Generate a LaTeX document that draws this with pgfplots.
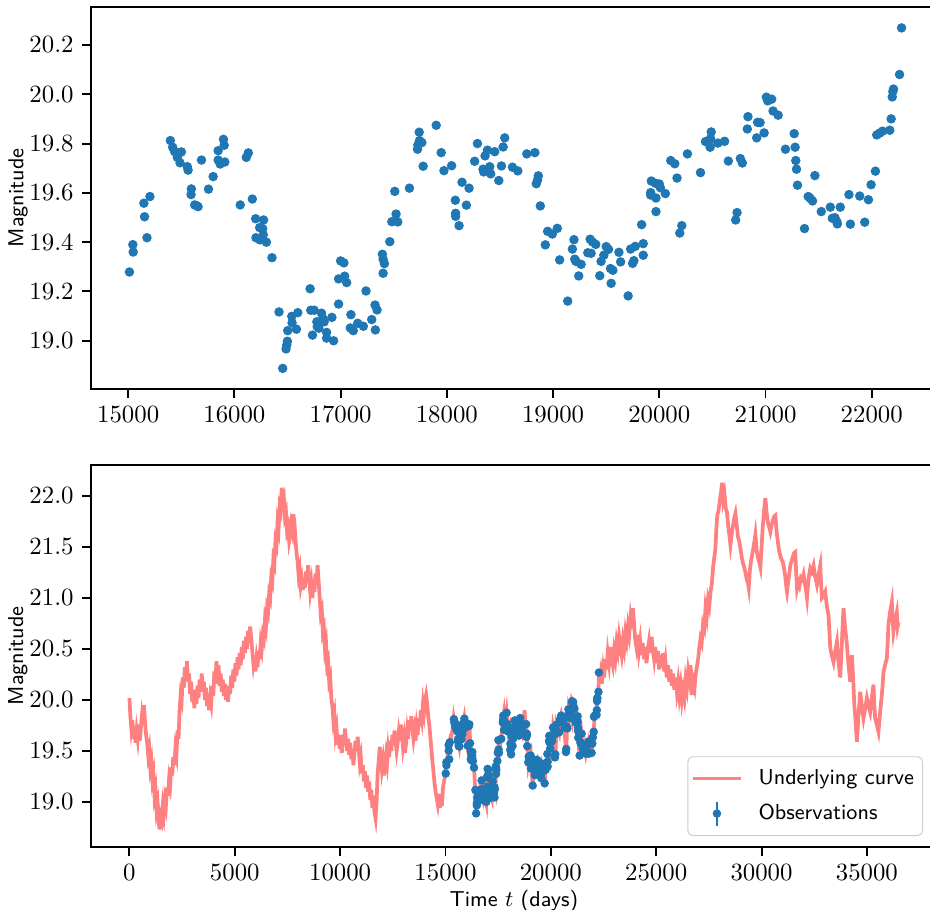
\documentclass[border=0pt]{standalone}
\usepackage{pgfplots}
\pgfplotsset{compat=1.18}
\usepackage{pgfplotstable}
\definecolor{obsblue}{HTML}{1F77B4}
\definecolor{curvered}{HTML}{FF8080}
\newcommand{\lblfont}{\fontsize{8.7}{10.5}\selectfont\sffamily}
\pgfplotsset{myax/.style={
  scale only axis, width=341.1pt, height=154pt,
  axis line style={line width=0.8pt},
  tick align=outside, tick pos=left, major tick length=3.5pt,
  every tick/.style={black, line width=0.8pt},
  scaled ticks=false,
  xticklabel style={/pgf/number format/1000 sep={}},
  ylabel style={font=\lblfont, at={(axis description cs:-0.0863,0.5)}, anchor=center, rotate=0},
  xlabel style={font=\lblfont, at={(axis description cs:0.5,-0.141)}, anchor=center},
}}
\begin{document}
\pgfplotstableread{
x y
15012 19.279
15044 19.390
15047 19.360
15154 19.503
15177 19.418
15148 19.558
15205 19.585
15397 19.812
15419 19.785
15438 19.767
15463 19.760
15501 19.766
15463 19.744
15488 19.722
15557 19.706
15564 19.692
15595 19.616
15592 19.593
15626 19.551
15658 19.544
15645 19.548
15690 19.733
15756 19.615
15800 19.666
15847 19.771
15847 19.733
15866 19.717
15897 19.817
15904 19.793
15910 19.725
16131 19.762
16112 19.744
16055 19.551
16169 19.575
16200 19.495
16275 19.490
16238 19.459
16266 19.455
16272 19.430
16203 19.418
16241 19.409
16301 19.400
16354 19.337
16455 18.888
16486 18.967
16493 18.983
16499 18.998
16502 19.041
16420 19.117
16540 19.099
16543 19.073
16584 19.047
16597 19.114
16713 19.211
16719 19.124
16751 19.124
16735 19.023
16776 19.077
16795 19.051
16820 19.112
16833 19.091
16845 19.077
16780 19.057
16868 19.034
16868 19.011
16934 19.000
16918 19.095
16981 19.149
17000 19.324
17031 19.316
16981 19.251
17038 19.262
17057 19.236
17097 19.106
17091 19.052
17119 19.041
17161 19.071
17214 19.059
17239 19.202
17293 19.086
17327 19.044
17324 19.145
17343 19.125
17400 19.274
17412 19.313
17400 19.331
17393 19.351
17463 19.402
17482 19.483
17538 19.482
17522 19.514
17510 19.606
17648 19.619
17724 19.777
17727 19.794
17743 19.812
17765 19.804
17740 19.846
17777 19.708
17900 19.874
17947 19.763
17973 19.690
18045 19.710
18080 19.570
18083 19.517
18083 19.505
18115 19.467
18143 19.643
18209 19.619
18184 19.550
18262 19.728
18288 19.800
18341 19.696
18347 19.685
18360 19.750
18382 19.773
18404 19.706
18413 19.677
18451 19.767
18489 19.650
18514 19.709
18530 19.786
18545 19.823
18618 19.704
18668 19.689
18753 19.758
18829 19.763
18861 19.669
18854 19.652
18842 19.637
18880 19.547
18927 19.389
18949 19.444
18993 19.433
19040 19.456
19062 19.328
19138 19.161
19197 19.410
19182 19.372
19204 19.331
19216 19.322
19264 19.310
19242 19.263
19349 19.412
19371 19.401
19402 19.391
19327 19.357
19358 19.355
19440 19.264
19452 19.322
19478 19.347
19500 19.382
19522 19.371
19541 19.293
19563 19.286
19547 19.233
19620 19.359
19636 19.320
19707 19.182
19730 19.372
19774 19.383
19749 19.314
19761 19.325
19849 19.394
19849 19.347
19834 19.471
19925 19.648
19919 19.601
19919 19.591
19969 19.579
19969 19.524
19963 19.639
20000 19.636
20010 19.621
20057 19.597
20108 19.731
20146 19.718
20167 19.660
20212 19.467
20193 19.437
20265 19.758
20388 19.682
20435 19.808
20489 19.847
20460 19.804
20479 19.785
20482 19.821
20552 19.802
20615 19.809
20650 19.729
20732 19.520
20719 19.490
20763 19.739
20782 19.721
20835 19.909
20829 19.859
20926 19.886
20949 19.885
20917 19.823
20987 19.843
21008 19.988
21021 19.973
21058 19.980
21071 19.932
21119 19.915
21188 19.777
21270 19.840
21279 19.785
21285 19.731
21292 19.696
21301 19.631
21367 19.455
21465 19.670
21402 19.585
21421 19.578
21443 19.567
21525 19.524
21610 19.542
21629 19.497
21654 19.499
21672 19.483
21676 19.474
21704 19.542
21786 19.593
21799 19.473
21887 19.587
21934 19.481
21969 19.572
21994 19.633
22035 19.688
22047 19.835
22073 19.842
22101 19.850
22170 19.854
22183 19.900
22193 19.989
22199 20.011
22205 20.021
22262 20.080
22281 20.269
}\obs
\pgfplotstableread{
x y
0 20.02
40 19.85
90 19.72
140 19.80
190 19.62
240 19.74
290 19.58
340 19.70
390 19.62
440 19.76
490 19.60
540 19.72
590 19.84
640 19.76
690 19.95
740 19.78
790 19.66
840 19.58
890 19.46
940 19.52
990 19.34
1040 19.40
1090 19.22
1140 19.28
1190 19.06
1240 19.12
1290 18.92
1340 18.98
1390 18.80
1430 18.73
1480 18.86
1530 18.82
1580 18.96
1630 18.88
1680 19.02
1730 18.96
1780 19.14
1830 19.06
1880 19.22
1930 19.16
1980 19.34
2030 19.26
2080 19.44
2130 19.36
2180 19.52
2230 19.46
2280 19.70
2330 19.62
2380 19.90
2430 20.05
2480 20.00
2530 20.22
2580 20.12
2630 20.32
2680 20.20
2730 20.38
2780 20.18
2830 20.26
2880 20.06
2930 20.18
2980 19.98
3030 20.10
3080 19.92
3130 20.06
3180 19.96
3230 20.14
3280 20.02
3330 20.20
3380 20.08
3430 20.26
3480 20.10
3530 20.18
3580 20.00
3630 20.12
3680 19.94
3730 20.06
3780 19.90
3830 20.02
3880 19.96
3930 20.14
3980 20.04
4030 20.28
4080 20.16
4130 20.38
4180 20.22
4230 20.34
4280 20.14
4330 20.26
4380 20.08
4430 20.20
4480 20.04
4530 20.16
4580 20.00
4630 20.12
4680 19.98
4730 20.14
4780 20.06
4830 20.24
4880 20.12
4930 20.30
4980 20.18
5030 20.36
5080 20.24
5130 20.42
5180 20.30
5230 20.46
5280 20.34
5330 20.52
5380 20.40
5430 20.58
5480 20.46
5530 20.62
5580 20.50
5630 20.68
5680 20.56
5730 20.72
5780 20.60
5830 20.48
5880 20.36
5930 20.44
5980 20.28
6030 20.40
6080 20.32
6130 20.48
6180 20.40
6230 20.56
6280 20.50
6330 20.64
6380 20.60
6430 20.78
6480 20.72
6530 20.90
6580 20.86
6630 21.04
6680 21.00
6730 21.20
6780 21.16
6830 21.38
6880 21.34
6930 21.56
6980 21.52
7030 21.74
7080 21.68
7130 21.90
7180 21.86
7230 22.08
7280 21.94
7330 21.98
7380 21.80
7430 21.84
7480 21.66
7530 21.70
7580 21.56
7630 21.62
7680 21.72
7730 21.66
7780 21.82
7830 21.74
7880 21.58
7930 21.44
7980 21.36
8030 21.22
8080 21.28
8130 21.12
8180 21.18
8230 21.08
8280 21.20
8330 21.10
8380 21.26
8430 21.16
8480 21.32
8530 21.20
8580 21.06
8630 21.14
8680 21.00
8730 21.16
8780 21.06
8830 21.24
8880 21.14
8930 21.32
8980 21.16
9030 21.00
9080 20.84
9130 20.88
9180 20.66
9230 20.70
9280 20.50
9330 20.56
9380 20.34
9430 20.38
9480 20.18
9530 20.22
9580 20.02
9630 19.94
9680 19.80
9730 19.86
9780 19.66
9830 19.72
9880 19.56
9930 19.66
9980 19.52
10030 19.62
10080 19.48
10130 19.66
10180 19.56
10230 19.72
10280 19.60
10330 19.50
10380 19.62
10430 19.46
10480 19.58
10530 19.42
10580 19.52
10630 19.36
10680 19.48
10730 19.60
10780 19.50
10830 19.64
10880 19.52
10930 19.38
10980 19.44
11030 19.28
11080 19.36
11130 19.20
11180 19.30
11230 19.14
11280 19.26
11330 19.10
11380 19.20
11430 19.02
11480 19.12
11530 18.94
11580 19.06
11630 18.90
11680 18.84
11730 19.00
11780 19.28
11830 19.40
11880 19.54
11930 19.44
11980 19.32
12030 19.40
12080 19.26
12130 19.36
12180 19.46
12230 19.38
12280 19.52
12330 19.44
12380 19.60
12430 19.50
12480 19.66
12530 19.56
12580 19.70
12630 19.60
12680 19.50
12730 19.58
12780 19.68
12830 19.60
12880 19.76
12930 19.66
12980 19.54
13030 19.62
13080 19.48
13130 19.58
13180 19.70
13230 19.62
13280 19.80
13330 19.70
13380 19.84
13430 19.72
13480 19.62
13530 19.70
13580 19.60
13630 19.74
13680 19.66
13730 19.82
13780 19.74
13830 19.90
13880 19.82
13930 19.96
13980 19.88
14030 20.00
14080 20.05
14130 19.96
14180 19.84
14230 19.76
14280 19.64
14330 19.52
14380 19.40
14430 19.30
14480 19.18
14530 19.10
14580 19.04
14630 18.98
14680 19.08
14730 18.94
14780 19.06
14830 18.96
14880 19.14
14930 19.20
14980 19.26
15040 19.38
15090 19.44
15140 19.52
15190 19.58
15240 19.54
15290 19.66
15340 19.72
15390 19.82
15440 19.76
15490 19.78
15540 19.70
15590 19.60
15640 19.55
15690 19.72
15740 19.62
15790 19.68
15840 19.76
15890 19.82
15940 19.72
15990 19.64
16040 19.56
16090 19.70
16130 19.78
16170 19.58
16220 19.48
16270 19.46
16320 19.40
16360 19.32
16410 19.12
16455 18.89
16500 19.02
16540 19.10
16590 19.08
16640 19.14
16690 19.06
16720 19.22
16760 19.10
16800 19.04
16850 19.10
16900 19.02
16940 18.98
16980 19.16
17010 19.34
17050 19.24
17100 19.06
17150 19.08
17200 19.04
17240 19.22
17290 19.08
17330 19.16
17370 19.12
17400 19.32
17450 19.40
17500 19.50
17530 19.62
17580 19.54
17640 19.64
17690 19.70
17730 19.82
17760 19.86
17800 19.70
17850 19.80
17900 19.88
17950 19.76
17990 19.68
18040 19.72
18080 19.54
18115 19.46
18150 19.66
18210 19.62
18260 19.74
18290 19.82
18340 19.68
18380 19.78
18420 19.66
18460 19.78
18500 19.64
18540 19.84
18590 19.72
18640 19.68
18700 19.76
18750 19.90
18800 19.74
18830 19.80
18860 19.64
18890 19.52
18930 19.38
18980 19.44
19040 19.48
19070 19.30
19110 19.24
19140 19.16
19180 19.36
19220 19.28
19260 19.32
19300 19.40
19350 19.42
19400 19.36
19440 19.24
19480 19.36
19520 19.38
19560 19.26
19600 19.34
19640 19.32
19680 19.24
19710 19.18
19750 19.34
19800 19.40
19850 19.38
19880 19.50
19920 19.62
19970 19.54
20010 19.64
20060 19.60
20110 19.74
20150 19.70
20190 19.46
20230 19.52
20270 19.76
20330 19.72
20390 19.68
20440 19.82
20490 19.86
20550 19.80
20610 19.82
20650 19.72
20700 19.54
20730 19.48
20770 19.74
20830 19.90
20880 19.84
20930 19.90
20980 19.84
21010 20.00
21060 19.98
21110 19.92
21150 19.84
21190 19.76
21240 19.82
21280 19.72
21310 19.60
21360 19.46
21400 19.58
21450 19.66
21500 19.54
21560 19.50
21610 19.55
21660 19.48
21710 19.54
21760 19.58
21800 19.46
21850 19.56
21890 19.60
21940 19.46
21990 19.64
22040 19.72
22080 19.84
22130 19.86
22170 19.86
22200 20.00
22250 20.06
22290 20.27
22320 20.18
22370 20.26
22420 20.16
22480 20.30
22530 20.22
22590 20.40
22640 20.30
22700 20.46
22760 20.36
22820 20.52
22880 20.40
22940 20.34
23000 20.48
23060 20.40
23120 20.56
23180 20.48
23240 20.62
23300 20.52
23360 20.44
23420 20.58
23480 20.50
23540 20.66
23600 20.58
23660 20.72
23720 20.64
23780 20.80
23840 20.70
23900 20.90
23950 20.74
24000 20.60
24060 20.52
24120 20.64
24180 20.48
24240 20.58
24300 20.44
24360 20.56
24420 20.40
24480 20.52
24540 20.36
24600 20.50
24660 20.58
24720 20.46
24780 20.62
24840 20.50
24900 20.40
24960 20.52
25020 20.36
25080 20.48
25140 20.30
25200 20.44
25260 20.32
25320 20.46
25380 20.28
25440 20.38
25500 20.22
25560 20.34
25620 20.18
25680 20.30
25740 20.14
25800 20.26
25860 20.10
25920 20.22
25980 20.08
26040 20.18
26100 20.04
26160 20.14
26220 20.00
26280 20.10
26340 20.02
26400 20.20
26460 20.12
26520 20.28
26580 20.20
26630 20.34
26700 20.05
26760 20.18
26820 20.12
26880 20.26
26945 20.34
27000 20.42
27050 20.52
27100 20.60
27160 20.56
27220 20.74
27280 20.70
27340 20.90
27400 20.82
27460 20.98
27520 20.92
27580 21.06
27640 21.14
27700 21.30
27760 21.40
27812 21.49
27860 21.70
27900 21.81
27960 21.86
28020 21.96
28080 22.04
28130 22.13
28180 21.96
28240 22.02
28300 21.88
28360 21.84
28420 21.70
28470 21.62
28524 21.52
28580 21.62
28640 21.70
28700 21.78
28761 21.83
28820 21.72
28880 21.60
28940 21.56
28997 21.49
29060 21.40
29120 21.34
29180 21.30
29234 21.25
29300 21.18
29360 21.14
29391 21.10
29450 21.28
29500 21.36
29552 21.42
29620 21.50
29680 21.58
29707 21.62
29760 21.48
29820 21.40
29880 21.36
29944 21.30
30000 21.50
30060 21.70
30120 21.86
30180 21.98
30240 21.84
30300 21.74
30360 21.70
30418 21.65
30480 21.72
30540 21.76
30600 21.80
30655 21.81
30720 21.64
30770 21.56
30811 21.49
30880 21.42
30940 21.38
31000 21.36
31048 21.32
31120 21.22
31180 21.10
31209 21.06
31280 21.18
31330 21.26
31366 21.32
31420 21.36
31480 21.40
31540 21.44
31602 21.45
31640 21.26
31683 21.10
31740 21.16
31800 21.12
31870 21.20
31940 21.18
31996 21.23
32060 21.14
32120 21.06
32157 21.00
32220 21.16
32270 21.24
32313 21.29
32380 21.26
32440 21.30
32469 21.32
32530 21.22
32580 21.18
32630 21.13
32700 21.22
32750 21.28
32787 21.32
32830 21.12
32868 21.00
32940 21.02
33024 21.06
33100 20.92
33180 20.83
33230 20.64
33261 20.51
33330 20.44
33417 20.37
33500 20.48
33578 20.57
33650 20.38
33735 20.22
33800 20.50
33860 20.78
33892 20.90
33960 20.72
34053 20.54
34120 20.36
34208 20.18
34250 20.32
34289 20.44
34360 20.16
34400 19.96
34445 19.85
34490 19.70
34526 19.59
34600 19.84
34682 20.08
34760 19.94
34839 19.82
34920 19.92
35000 20.02
35080 19.94
35156 19.88
35230 20.02
35312 20.15
35350 19.96
35393 19.82
35470 19.76
35549 19.69
35630 19.88
35710 20.05
35750 20.16
35785 20.27
35860 20.34
35947 20.41
35990 20.58
36023 20.74
36100 20.86
36184 20.96
36220 20.80
36260 20.67
36340 20.78
36420 20.86
36460 20.72
36500 20.76
}\curve
\begin{tikzpicture}
\begin{axis}[myax, at={(0pt,184.7pt)}, anchor=south west,
  xmin=14650, xmax=22614, ymin=18.805, ymax=20.354,
  xtick={15000,16000,17000,18000,19000,20000,21000,22000},
  ytick={19,19.2,19.4,19.6,19.8,20,20.2},
  yticklabel style={/pgf/number format/.cd, fixed, fixed zerofill, precision=1},
  ylabel={Magnitude}]
\addplot[only marks, mark=*, mark size=1.7pt, color=obsblue] table {\obs};
\end{axis}
\begin{axis}[myax, at={(0pt,0pt)}, anchor=south west,
  xmin=-1825, xmax=38325, ymin=18.559, ymax=22.304,
  xtick={0,5000,10000,15000,20000,25000,30000,35000},
  ytick={19,19.5,20,20.5,21,21.5,22},
  yticklabel style={/pgf/number format/.cd, fixed, fixed zerofill, precision=1},
  ylabel={Magnitude}, xlabel={Time $t$ (days)},
  legend style={font=\lblfont, draw=black!20, rounded corners=2pt, fill=white,
    at={(1,0)}, anchor=south east, xshift=-5.6pt, yshift=4.4pt,
    inner xsep=1.5pt, inner ysep=3pt, row sep=2.5pt, cells={anchor=west}}]
\addplot[curvered, line width=1.5pt,
  legend image code/.code={\draw[curvered, line width=1.1pt] (0cm,0cm) -- (0.68cm,0cm); \path[draw=none, fill=none] (0.68cm+5pt,0cm) circle (0.1pt);}] table {\curve};
\addlegendentry{Underlying curve}
\addplot[only marks, mark=*, mark size=1.5pt, color=obsblue,
  legend image code/.code={\draw[obsblue, line width=1pt] (0.34cm,-0.17cm) -- (0.34cm,0.17cm); \fill[obsblue] (0.34cm,0cm) circle (1.5pt); \path[draw=none, fill=none] (0cm,0cm) circle (0.1pt); \path[draw=none, fill=none] (0.68cm+5pt,0cm) circle (0.1pt);}] table {\obs};
\addlegendentry{Observations}
\end{axis}
\pgfresetboundingbox
\useasboundingbox (-36.69pt,-25.40pt) rectangle (338.3pt,341.5pt);
\end{tikzpicture}
\end{document}
